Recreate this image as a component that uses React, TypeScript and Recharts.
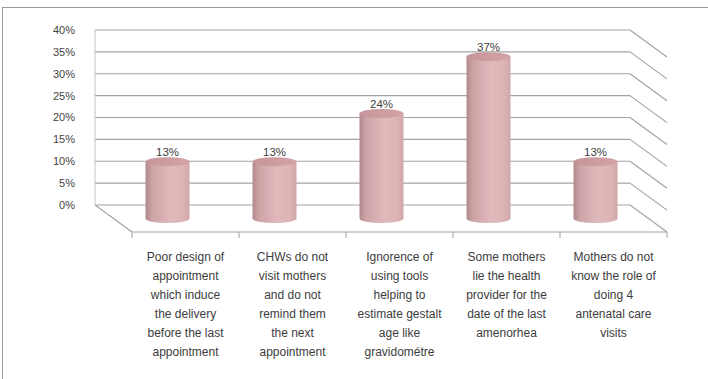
import { BarChart, Bar, XAxis, YAxis, CartesianGrid, LabelList } from "recharts";

const categories = [
  "Poor design of\nappointment\nwhich induce\nthe delivery\nbefore the last\nappointment",
  "CHWs do not\nvisit mothers\nand do not\nremind them\nthe next\nappointment",
  "Ignorence of\nusing tools\nhelping to\nestimate gestalt\nage like\ngravidométre",
  "Some mothers\nlie the health\nprovider for the\ndate of the  last\namenorhea",
  "Mothers do not\nknow the role of\ndoing 4\nantenatal care\nvisits",
];
const percents = [13, 13, 24, 37, 13];
const yTicks = [0, 5, 10, 15, 20, 25, 30, 35, 40];

const data = categories.map((name, i) => ({ name, value: percents[i] }));

// 3D depth: front of the floor vs. back wall
const DX = 37;
const DY = 27;
const W = 708;
const H = 379;
const M_TOP = 30;
const M_RIGHT = 78;
const Y_W = 95;
const X_H = 174;
const PLOT_BOTTOM = H - X_H;
const BAND = (W - M_RIGHT - Y_W) / categories.length;
const GRID = "#a3a3a3";
const FONT = "'Liberation Sans', Arial, sans-serif";

function GridLine(props: any) {
  const { x1, y1, x2, y2 } = props;
  const isFloor = Math.abs(y1 - PLOT_BOTTOM) < 1;
  return (
    <g>
      <line x1={x1} y1={y1} x2={x2} y2={y2} stroke={GRID} strokeWidth={1.2} />
      <line x1={x2} y1={y2} x2={x2 + DX} y2={y2 + DY} stroke={GRID} strokeWidth={1.2} />
      {isFloor && (
        <>
          <line x1={x1} y1={y1} x2={x1 + DX} y2={y1 + DY} stroke={GRID} strokeWidth={1.2} />
          <line x1={x1 + DX} y1={y1 + DY} x2={x2 + DX} y2={y2 + DY} stroke={GRID} strokeWidth={1.2} />
        </>
      )}
    </g>
  );
}

function Cylinder(props: any) {
  const { x, y, width, height } = props;
  if (!width || height == null) return null;
  const cx = x + width / 2 + DX / 2;
  const rx = width / 2;
  const ry = 4.5;
  const top = y + DY / 2;
  const bottom = y + height + DY / 2;
  const l = cx - rx;
  const r = cx + rx;
  return (
    <g>
      <path
        d={`M${l},${top} L${l},${bottom} A${rx},${ry} 0 0 0 ${r},${bottom} L${r},${top} Z`}
        fill="url(#cylBody)"
      />
      <ellipse cx={cx} cy={top} rx={rx} ry={ry} fill="url(#cylTop)" />
    </g>
  );
}

function ValueLabel(props: any) {
  const { x, y, width, value } = props;
  return (
    <text
      x={x + width / 2 + DX / 2}
      y={y + DY / 2 - 6}
      textAnchor="middle"
      fontSize={11.5}
      fontFamily={FONT}
      fill="#404040"
    >
      {`${value}%`}
    </text>
  );
}

function CategoryTick(props: any) {
  const { x, y, payload, index } = props;
  const lines = String(payload.value).split("\n");
  const fx = x + DX;
  const fy = y + DY;
  return (
    <g>
      <line x1={fx - BAND / 2} y1={fy} x2={fx - BAND / 2} y2={fy + 6} stroke={GRID} />
      {index === categories.length - 1 && (
        <line x1={fx + BAND / 2} y1={fy} x2={fx + BAND / 2} y2={fy + 6} stroke={GRID} />
      )}
      <text textAnchor="middle" fontSize={12} fontFamily={FONT} fill="#3c3c3c">
        {lines.map((ln, i) => (
          <tspan key={i} x={fx} y={fy + 29 + i * 19}>
            {ln}
          </tspan>
        ))}
      </text>
    </g>
  );
}

export default function App() {
  return (
    <div style={{ position: "absolute", left: 0, top: 0, width: W, height: H, background: "#fff" }}>
      <div
        style={{
          position: "absolute",
          left: 2,
          top: 7,
          right: 0,
          bottom: 0,
          borderLeft: "1.5px solid #9a9a9a",
          borderTop: "1.5px solid #9a9a9a",
        }}
      />
      <BarChart
        width={W}
        height={H}
        data={data}
        margin={{ top: M_TOP, right: M_RIGHT, bottom: 0, left: 0 }}
        barSize={44}
        style={{ position: "absolute", left: 0, top: 0 }}
      >
        <defs>
          <linearGradient id="cylBody" x1="0" y1="0" x2="1" y2="0">
            <stop offset="0%" stopColor="#b18a8d" />
            <stop offset="15%" stopColor="#cda3a6" />
            <stop offset="55%" stopColor="#e0b9bb" />
            <stop offset="85%" stopColor="#ddb4b6" />
            <stop offset="100%" stopColor="#d0a6a9" />
          </linearGradient>
          <linearGradient id="cylTop" x1="0" y1="0" x2="1" y2="0">
            <stop offset="0%" stopColor="#c59599" />
            <stop offset="100%" stopColor="#d3a4a7" />
          </linearGradient>
        </defs>
        <CartesianGrid vertical={false} horizontal={(p: any) => <GridLine {...p} />} />
        <YAxis
          type="number"
          domain={[0, 40]}
          ticks={yTicks}
          interval={0}
          width={Y_W}
          tickFormatter={(v: number) => `${v}%`}
          axisLine={{ stroke: "#c4c4c4" }}
          tickLine={false}
          tickMargin={14}
          tick={{ fontSize: 11, fill: "#444", fontFamily: FONT }}
        />
        <XAxis
          dataKey="name"
          height={X_H}
          interval={0}
          axisLine={false}
          tickLine={false}
          tickSize={0}
          tickMargin={0}
          tick={<CategoryTick />}
        />
        <Bar dataKey="value" isAnimationActive={false} shape={<Cylinder />}>
          <LabelList dataKey="value" content={<ValueLabel />} />
        </Bar>
      </BarChart>
    </div>
  );
}
